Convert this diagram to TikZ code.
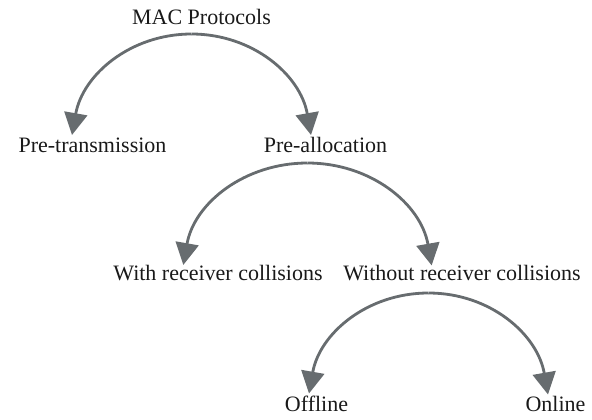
\documentclass[tikz,border=0pt]{standalone}
\usepackage{fontspec}
\setmainfont{Liberation Serif}
\usetikzlibrary{arrows.meta}
\definecolor{arcgray}{RGB}{103,108,111}
\definecolor{txt}{RGB}{25,25,25}
\begin{document}
\begin{tikzpicture}[x=1pt,y=1pt,
  lbl/.style={inner sep=0pt, anchor=base, font=\fontsize{22}{26}\selectfont, text=txt},
  arr/.style={draw=arcgray, line width=2.8pt, -{Triangle[length=22pt,width=23pt]}}]
\useasboundingbox (0,0) rectangle (592,-420);
% labels
\node[lbl] (mac) at (201.5,-25) {MAC Protocols};
\node[lbl] (pt)  at (92.5,-152.5) {Pre-transmission};
\node[lbl] (pa)  at (325.5,-152.5) {Pre-allocation};
\node[lbl] (wrc) at (218,-280) {With receiver collisions};
\node[lbl] (wo)  at (462,-280) {Without receiver collisions};
\node[lbl] (off) at (316.5,-411.5) {Offline};
\node[lbl] (on)  at (555.5,-411.5) {Online};
% arc peaks (below parents) and arrow tips (above children)
\coordinate (p1) at (191.5,-34);
\coordinate (p2) at (307.5,-163);
\coordinate (p3) at (428.5,-293);
\coordinate (t1l) at (72,-135);
\coordinate (t1r) at (311,-135);
\coordinate (t2l) at (183.3,-265);
\coordinate (t2r) at (431.7,-265.5);
\coordinate (t3l) at (309,-393.5);
\coordinate (t3r) at (548,-394.5);
% connectors
\draw[arr] (p1) to[out=180,in=80] (t1l);
\draw[arr] (p1) to[out=0,in=100] (t1r);
\draw[arr] (p2) to[out=180,in=80] (t2l);
\draw[arr] (p2) to[out=0,in=100] (t2r);
\draw[arr] (p3) to[out=180,in=80] (t3l);
\draw[arr] (p3) to[out=0,in=100] (t3r);
\end{tikzpicture}
\end{document}
